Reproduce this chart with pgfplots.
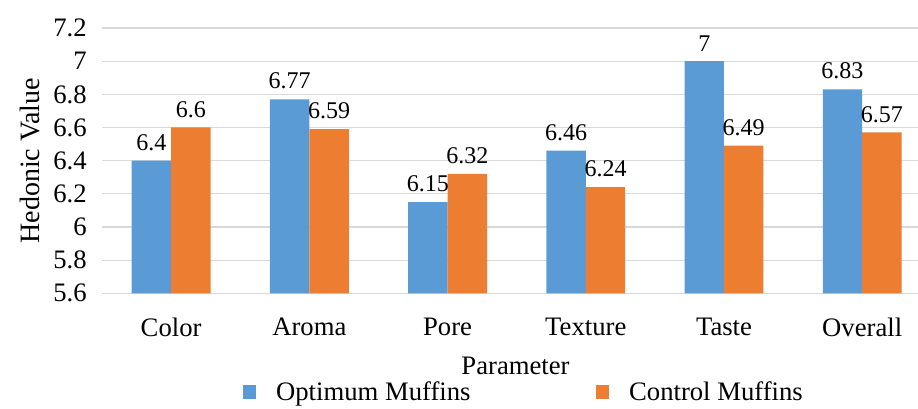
\documentclass[border=0pt]{standalone}
\usepackage{pgfplots}
\pgfplotsset{compat=1.18}
\usepackage{fontspec}
\setmainfont{Liberation Serif}
\definecolor{cblue}{HTML}{5B9BD5}
\definecolor{corange}{HTML}{ED7D31}
\definecolor{gridc}{HTML}{D9D9D9}
\begin{document}
\begin{tikzpicture}
\begin{axis}[
    scale only axis,
    width=622pt, height=199pt,
    ybar=0pt, bar width=29.6pt,
    xmin=-0.5, xmax=5.5,
    ymin=5.6, ymax=7.2,
    ytick={5.6,5.8,6,6.2,6.4,6.6,6.8,7,7.2},
    xtick={0,1,2,3,4,5},
    xticklabels={Color,Aroma,Pore,Texture,Taste,Overall},
    axis line style={draw=none},
    major tick length=0pt,
    ymajorgrids, grid style={gridc, line width=0.9pt},
    /pgf/number format/assume math mode=true,
    tick label style={font=\fontsize{20}{20}\selectfont},
    xticklabel style={yshift=-15pt},
    yticklabel style={xshift=-8pt},
    ylabel={Hedonic Value}, xlabel={Parameter},
    xlabel style={font=\fontsize{20}{20}\selectfont, at={(axis description cs:0.4986,-0.275)}, anchor=center},
    ylabel style={font=\fontsize{21}{21}\selectfont, at={(axis description cs:-0.0868,0.5)}, anchor=center},
    nodes near coords,
    every node near coord/.append style={font=\fontsize{18}{18}\selectfont, black, yshift=4pt},
    legend style={at={(axis description cs:0.509,-0.372)}, anchor=center, legend columns=2, draw=none,
        font=\fontsize{20}{20}\selectfont,
        /tikz/every odd column/.append style={column sep=13pt},
        /tikz/every even column/.append style={column sep=92pt}},
    legend image code/.code={\fill[#1] (0pt,-5pt) rectangle (10pt,5pt);},
]
\addplot[fill=cblue, draw=none] coordinates {(0,6.4) (1,6.77) (2,6.15) (3,6.46) (4,7) (5,6.83)};
\addplot[fill=corange, draw=none] coordinates {(0,6.6) (1,6.59) (2,6.32) (3,6.24) (4,6.49) (5,6.57)};
\legend{Optimum Muffins, Control Muffins}
\end{axis}
\pgfresetboundingbox
\path[use as bounding box] ([xshift=-76.5pt,yshift=-86.25pt]current axis.south west) rectangle ([xshift=612pt,yshift=21pt]current axis.north west);
\end{tikzpicture}
\end{document}
